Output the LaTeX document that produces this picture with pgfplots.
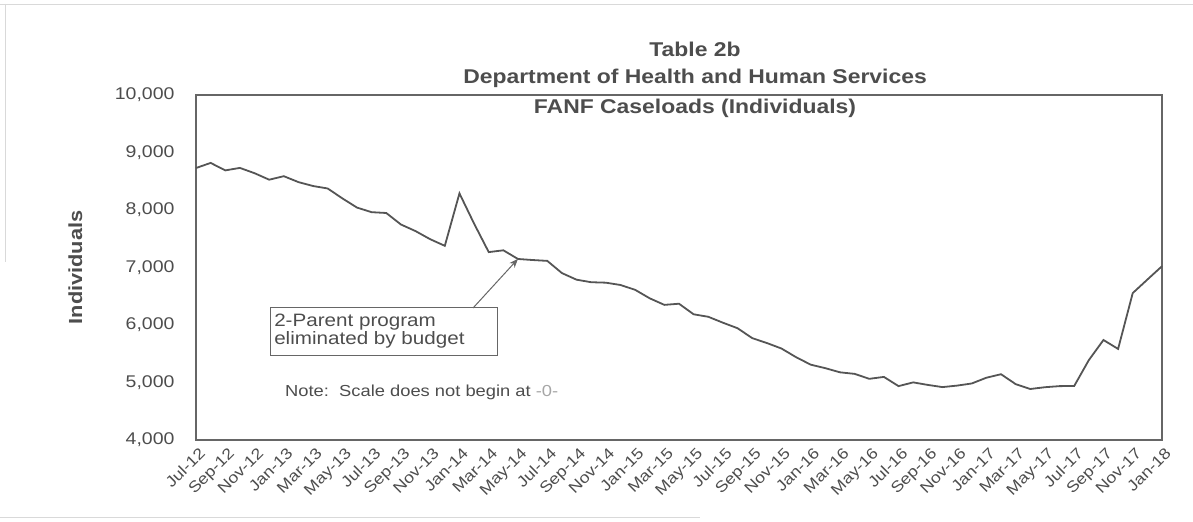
\documentclass[border=0pt]{standalone}
\usepackage{pgfplots}
\pgfplotsset{compat=1.18}
\usetikzlibrary{arrows.meta}
\usepackage{fontspec}
\setmainfont{Liberation Sans}[FakeStretch=1.15]
\definecolor{txt}{HTML}{4D4D4D}
\definecolor{ln}{HTML}{555555}
\definecolor{frm}{HTML}{666666}
\begin{document}
\begin{tikzpicture}
\useasboundingbox (0,0) rectangle (1193bp,522bp);
\draw[gray!30, line width=0.6bp] (0,518bp) -- (1193bp,518bp);
\draw[gray!30, line width=0.6bp] (5bp,518bp) -- (5bp,260bp);
\draw[gray!30, line width=0.6bp] (0,5bp) -- (700bp,5bp);
\begin{axis}[
  at={(196bp,82bp)}, anchor=south west,
  scale only axis, width=966bp, height=345bp,
  xmin=0, xmax=66, ymin=4000, ymax=10000,
  axis line style={frm, line width=1.5bp},
  major tick length=0pt,
  xtick={0,2,...,66},
  xticklabels={Jul-12,Sep-12,Nov-12,Jan-13,Mar-13,May-13,Jul-13,Sep-13,Nov-13,Jan-14,Mar-14,May-14,Jul-14,Sep-14,Nov-14,Jan-15,Mar-15,May-15,Jul-15,Sep-15,Nov-15,Jan-16,Mar-16,May-16,Jul-16,Sep-16,Nov-16,Jan-17,Mar-17,May-17,Jul-17,Sep-17,Nov-17,Jan-18},
  xticklabel style={rotate=45, anchor=north east, inner sep=1bp, yshift=-5bp, xshift=-2bp, font=\fontsize{15.5}{15.5}\selectfont, text=txt},
  ytick={4000,5000,...,10000},
  scaled y ticks=false,
  yticklabel style={font=\fontsize{17}{17}\selectfont, text=txt, xshift=-18bp},
  /pgf/number format/assume math mode=true,
  /pgf/number format/1000 sep={,},
  clip=false,
]
\addplot[ln, line width=1.8bp] coordinates {
(0,8730) (1,8819) (2,8689) (3,8732) (4,8640) (5,8527) (6,8588) (7,8485) (8,8417) (9,8374)
(10,8202) (11,8042) (12,7962) (13,7948) (14,7748) (15,7633) (16,7492) (17,7377) (18,8289) (19,7763)
(20,7268) (21,7299) (22,7148) (23,7130) (24,7115) (25,6903) (26,6788) (27,6744) (28,6736) (29,6696)
(30,6612) (31,6464) (32,6350) (33,6370) (34,6186) (35,6143) (36,6040) (37,5944) (38,5772) (39,5687)
(40,5591) (41,5440) (42,5310) (43,5249) (44,5177) (45,5150) (46,5064) (47,5097) (48,4937) (49,5002)
(50,4958) (51,4920) (52,4946) (53,4983) (54,5083) (55,5144) (56,4972) (57,4887) (58,4918) (59,4937)
(60,4939) (61,5389) (62,5739) (63,5584) (64,6555) (65,6790) (66,7023)
};
% titles
\node[text=txt, font=\bfseries\fontsize{20}{20}\selectfont] at (axis description cs:0.5166,1.133) {Table 2b};
\node[text=txt, font=\bfseries\fontsize{20}{20}\selectfont] at (axis description cs:0.5166,1.049) {Department of Health and Human Services};
\node[text=txt, font=\bfseries\fontsize{20}{20}\selectfont] at (axis description cs:0.5166,0.96) {FANF Caseloads (Individuals)};
% y label
\node[text=txt, rotate=90, font=\bfseries\fontsize{19}{19}\selectfont] at (axis description cs:-0.125,0.5) {Individuals};
% annotation
\draw[frm, line width=1bp] (axis cs:5.06,6296) rectangle (axis cs:20.63,5478);
\node[text=txt, anchor=north west, align=left, inner sep=0pt, font=\fontsize{18}{15}\selectfont] at ([xshift=4bp,yshift=-6bp]axis cs:5.06,6296) {2-Parent program\\eliminated by budget};
\draw[frm, line width=1bp, -{Stealth[length=9bp,width=7bp]}] (axis cs:18.93,6296) -- (axis cs:22.0,7150);
\node[text=txt, anchor=west, inner sep=0pt, font=\fontsize{16}{16}\selectfont] at (axis cs:6.08,4832) {Note:\ \ Scale does not begin at \textcolor{gray!70}{-0-}};
\end{axis}
\end{tikzpicture}
\end{document}
